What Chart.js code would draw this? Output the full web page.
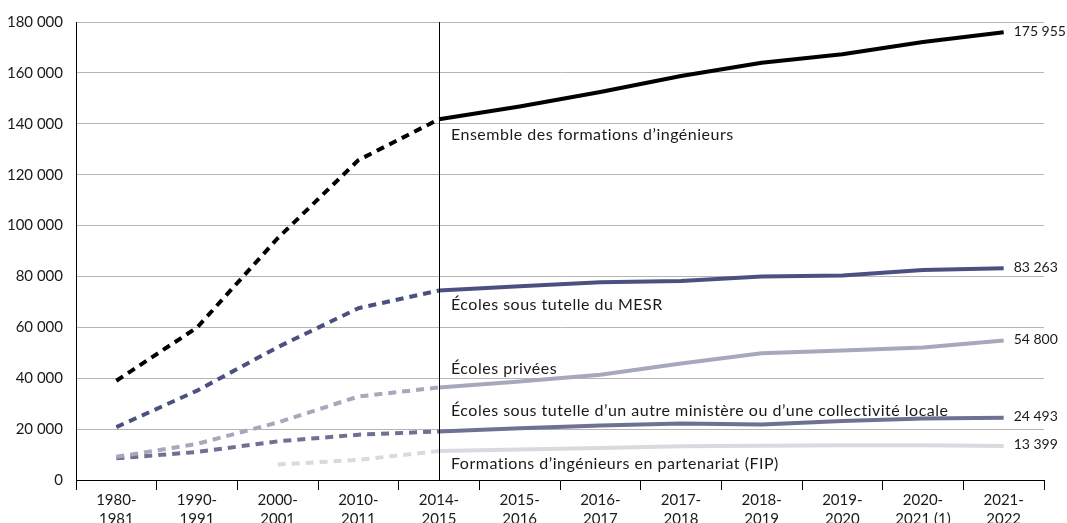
<!DOCTYPE html>
<html lang="fr">
<head>
<meta charset="utf-8">
<script src="https://cdn.jsdelivr.net/npm/chart.js@4/dist/chart.umd.min.js"></script>
<style>
  html, body { margin: 0; padding: 0; background: #fff; overflow: hidden; }
  #wrap { position: relative; width: 1067px; height: 531px; }
</style>
</head>
<body>
<div id="wrap"><canvas id="chart"></canvas></div>
<script>
"use strict";

// années universitaires (axe x)
const years = [
  ["1980-", "1981"], ["1990-", "1991"], ["2000-", "2001"], ["2010-", "2011"],
  ["2014-", "2015"], ["2015-", "2016"], ["2016-", "2017"], ["2017-", "2018"],
  ["2018-", "2019"], ["2019-", "2020"], ["2020-", "2021 (1)"], ["2021-", "2022"],
];

const ensemble = [39000, 59900, 95000, 125700, 141800, 146800, 152500, 158800, 164000, 167300, 172100, 175955];
const mesr = [20800, 35100, 52200, 67500, 74500, 76100, 77700, 78200, 80000, 80400, 82500, 83263];
const privees = [9100, 14200, 22600, 32800, 36400, 38700, 41400, 45800, 49800, 50900, 52100, 54800];
const autreMinistere = [8500, 11000, 15200, 17800, 19100, 20300, 21400, 22200, 21800, 23200, 24200, 24493];
const fip = [null, null, 6100, 7900, 11400, 12000, 12600, 13300, 13500, 13700, 13700, 13399];

const seriesNames = [
  "Ensemble des formations d’ingénieurs",
  "Écoles sous tutelle du MESR",
  "Écoles privées",
  "Écoles sous tutelle d’un autre ministère ou d’une collectivité locale",
  "Formations d’ingénieurs en partenariat (FIP)",
];

const yTicks = [0, 20000, 40000, 60000, 80000, 100000, 120000, 140000, 160000, 180000];

const FONT = "Lato, 'Open Sans', sans-serif";
const TXT = "#1a1a1a";
const colors = ["#000000", "#4b5080", "#a6a8bb", "#6e7192", "#d9dae0"];
// décalage vertical du libellé par rapport au point 2014-2015
const nameOffsets = [16, 14, -19, -21, 13];

const fmt = (n) => String(n).replace(/\B(?=(\d{3})+(?!\d))/g, " ");
const SPLIT = 4; // index 2014-2015 : pointillés avant, trait plein après

const makeSet = (data, i) => ({
  label: seriesNames[i],
  data: data,
  borderColor: colors[i],
  backgroundColor: colors[i],
  borderWidth: 4,
  pointRadius: 0,
  tension: 0,
  borderJoinStyle: "round",
  segment: {
    borderDash: (ctx) => (ctx.p0DataIndex < SPLIT ? [8, 6] : undefined),
  },
});

const annotations = {
  id: "annotations",
  afterDatasetsDraw(chart) {
    const { ctx, chartArea, scales } = chart;
    const xs = scales.x.getPixelForValue(SPLIT);
    ctx.save();
    ctx.strokeStyle = "#000";
    ctx.lineWidth = 1;
    ctx.beginPath();
    ctx.moveTo(Math.round(xs) + 0.5, chartArea.top);
    ctx.lineTo(Math.round(xs) + 0.5, chartArea.bottom);
    ctx.stroke();

    ctx.fillStyle = TXT;
    ctx.textBaseline = "middle";
    ctx.textAlign = "left";
    chart.data.datasets.forEach((ds, i) => {
      const meta = chart.getDatasetMeta(i);
      const p = meta.data[SPLIT];
      ctx.font = "16px " + FONT;
      ctx.letterSpacing = "0.5px";
      ctx.fillText(ds.label, xs + 12, p.y + nameOffsets[i]);
      const last = meta.data[meta.data.length - 1];
      ctx.font = "14px " + FONT;
      ctx.letterSpacing = "0px";
      ctx.fillText(fmt(ds.data[ds.data.length - 1]), last.x + 10, last.y - 1);
    });
    ctx.restore();
  },
};

new Chart(document.getElementById("chart"), {
  type: "line",
  data: {
    labels: years,
    datasets: [ensemble, mesr, privees, autreMinistere, fip].map(makeSet),
  },
  options: {
    responsive: true,
    maintainAspectRatio: false,
    animation: false,
    layout: { padding: { top: 19, right: 23, left: 0, bottom: 0 } },
    plugins: { legend: { display: false }, tooltip: { enabled: false } },
    scales: {
      x: {
        offset: true,
        grid: {
          offset: true,
          drawOnChartArea: false,
          drawTicks: true,
          tickLength: 10,
          color: "#000",
        },
        border: { color: "#000", width: 1 },
        ticks: {
          color: TXT,
          font: { family: FONT, size: 15, lineHeight: 1.25 },
          padding: 1,
          maxRotation: 0,
          autoSkip: false,
        },
        afterFit(scale) { scale.height = 51; },
      },
      y: {
        min: 0,
        max: 180000,
        afterBuildTicks(scale) { scale.ticks = yTicks.map((v) => ({ value: v })); },
        grid: { color: "#b5b5b5", lineWidth: 1, drawTicks: false },
        border: { color: "#000", width: 1 },
        ticks: {
          color: TXT,
          font: { family: FONT, size: 15 },
          padding: 13,
          callback: (v) => fmt(v),
        },
        afterFit(scale) { scale.width = 76; },
      },
    },
  },
  plugins: [annotations],
});
</script>
</body>
</html>
